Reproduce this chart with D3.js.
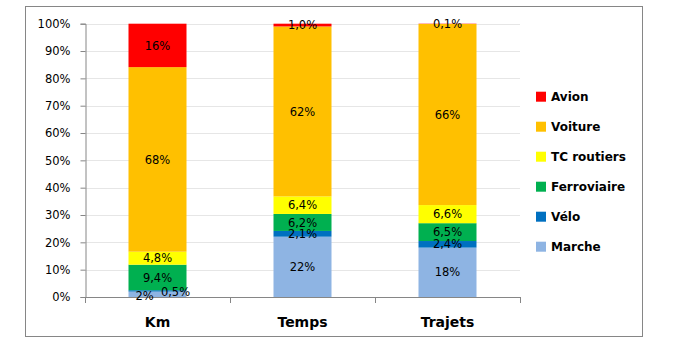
<!DOCTYPE html>
<html><head><meta charset="utf-8">
<script src="https://cdn.jsdelivr.net/npm/d3@7"></script>
<style>body{margin:0;background:#fff}svg{display:block}</style>
</head><body><svg id="c" width="699" height="343"></svg>
<script>
const categories = ["Km", "Temps", "Trajets"];
const seriesNames = ["Marche", "Vélo", "Ferroviaire", "TC routiers", "Voiture", "Avion"];
const marche = [2, 22, 18];
const velo = [0.5, 2.1, 2.4];
const ferroviaire = [9.4, 6.2, 6.5];
const tcRoutiers = [4.8, 6.4, 6.6];
const voiture = [68, 62, 66];
const avion = [16, 1.0, 0.1];
const labelsMarche = ["2%", "22%", "18%"];
const labelsVelo = ["0,5%", "2,1%", "2,4%"];
const labelsFerro = ["9,4%", "6,2%", "6,5%"];
const labelsTC = ["4,8%", "6,4%", "6,6%"];
const labelsVoiture = ["68%", "62%", "66%"];
const labelsAvion = ["16%", "1,0%", "0,1%"];
const yTicks = [0, 0.1, 0.2, 0.3, 0.4, 0.5, 0.6, 0.7, 0.8, 0.9, 1];
const colors = ["#8EB4E3", "#0070C0", "#00B050", "#FFFF00", "#FFC000", "#FF0000"];

(function () {
const seriesValues = [marche, velo, ferroviaire, tcRoutiers, voiture, avion];
const seriesLabels = [labelsMarche, labelsVelo, labelsFerro, labelsTC, labelsVoiture, labelsAvion];
const table = categories.map((c, i) => {
  const row = {cat: c};
  seriesNames.forEach((s, j) => row[s] = seriesValues[j][i]);
  return row;
});
const stacked = d3.stack().keys(seriesNames).offset(d3.stackOffsetExpand)(table);

const svg = d3.select("#c");
const font = "DejaVu Sans, Verdana, sans-serif";
svg.append("rect").attr("x", 25.5).attr("y", 6.5).attr("width", 617).attr("height", 330)
  .attr("fill", "#fff").attr("stroke", "#868686").attr("stroke-width", 1);

const pLeft = 85, pRight = 520, pTop = 23.7, pBottom = 297;
const x = d3.scaleBand().domain(categories).range([pLeft, pRight]).paddingInner(0.6).paddingOuter(0.3);
const y = d3.scaleLinear().domain([0, 1]).range([pBottom, pTop]);

svg.append("g").selectAll("line").data(yTicks.slice(1)).join("line")
  .attr("x1", pLeft).attr("x2", pRight)
  .attr("y1", d => Math.round(y(d)) + 0.5).attr("y2", d => Math.round(y(d)) + 0.5)
  .attr("stroke", "#E6E6E6").attr("stroke-width", 1);

const yAxis = svg.append("g").attr("transform", `translate(${pLeft + 0.5},0)`)
  .call(d3.axisLeft(y).tickValues(yTicks).tickFormat(d3.format(".0%")).tickSize(5).tickPadding(10));
yAxis.select(".domain").attr("stroke", "#868686");
yAxis.selectAll(".tick line").attr("stroke", "#868686");
yAxis.selectAll(".tick text").attr("font-family", font).attr("font-size", 11.5).attr("fill", "#000");

const g = svg.append("g");
stacked.forEach((layer, j) => {
  g.append("g").attr("fill", colors[j]).selectAll("rect").data(layer).join("rect")
    .attr("x", d => x(d.data.cat))
    .attr("width", x.bandwidth())
    .attr("y", d => y(d[1]))
    .attr("height", d => y(d[0]) - y(d[1]));
});

const xAxis = svg.append("g").attr("transform", `translate(0,${pBottom + 0.5})`)
  .call(d3.axisBottom(x).tickSize(0).tickPadding(20));
xAxis.select(".domain").attr("stroke", "#868686").attr("d", `M${pLeft},0H${pRight}`);
xAxis.selectAll(".tick text").attr("font-family", font).attr("font-size", 14).attr("font-weight", "bold").attr("fill", "#000");
svg.append("g").selectAll("line").data(d3.range(categories.length + 1)).join("line")
  .attr("x1", i => Math.round(pLeft + i * (pRight - pLeft) / categories.length) + 0.5)
  .attr("x2", i => Math.round(pLeft + i * (pRight - pLeft) / categories.length) + 0.5)
  .attr("y1", pBottom).attr("y2", pBottom + 6).attr("stroke", "#868686");

const labG = svg.append("g").attr("font-family", font).attr("font-size", 11.5).attr("fill", "#000").attr("text-anchor", "middle");
stacked.forEach((layer, j) => {
  layer.forEach((d, i) => {
    let cx = x(d.data.cat) + x.bandwidth() / 2;
    let cy = (y(d[0]) + y(d[1])) / 2;
    if (i === 0 && j === 0) { cx -= 13; cy += 2; }
    if (i === 0 && j === 1) { cx += 18; cy += 1; }
    labG.append("text").attr("x", cx).attr("y", cy).attr("dy", "0.36em").text(seriesLabels[j][i]);
  });
});

const legendOrder = seriesNames.map((s, j) => j).reverse();
const lg = svg.append("g").attr("font-family", font).attr("font-size", 12).attr("font-weight", "bold");
legendOrder.forEach((j, k) => {
  const cy = 96.7 + k * 30;
  lg.append("rect").attr("x", 536).attr("y", cy - 5).attr("width", 10).attr("height", 10).attr("fill", colors[j]);
  lg.append("text").attr("x", 551).attr("y", cy).attr("dy", "0.36em").text(seriesNames[j]);
});
})();
</script></body></html>
